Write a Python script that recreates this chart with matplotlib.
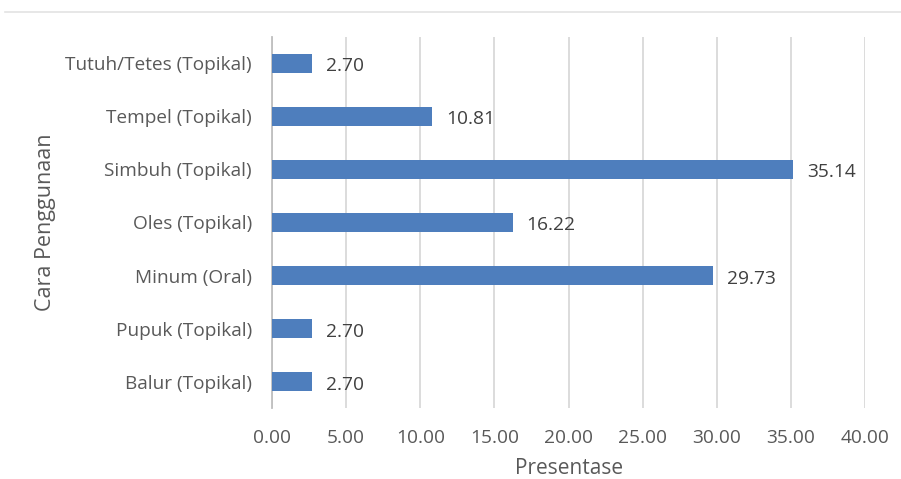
import matplotlib
matplotlib.use("Agg")
import matplotlib.pyplot as plt
from matplotlib.lines import Line2D

categories = ["Balur (Topikal)", "Pupuk (Topikal)", "Minum (Oral)", "Oles (Topikal)",
              "Simbuh (Topikal)", "Tempel (Topikal)", "Tutuh/Tetes (Topikal)"]
values = [2.70, 2.70, 29.73, 16.22, 35.14, 10.81, 2.70]
x_ticks = [0, 5, 10, 15, 20, 25, 30, 35, 40]

plt.rcParams['font.family'] = ['Open Sans', 'DejaVu Sans']
text_color = '#595959'
bar_color = '#4E7EBD'
grid_color = '#D9D9D9'

fig = plt.figure(figsize=(9.01, 4.79), dpi=100)
ax = fig.add_axes([0.3019, 0.1482, 0.6583, 0.7746])

ypos = list(range(len(categories)))
ax.barh(ypos, values, height=0.35, color=bar_color, zorder=3)

for y, v in zip(ypos, values):
    ax.annotate(f"{v:.2f}", xy=(v, y), xytext=(14, -3), textcoords='offset pixels',
                ha='left', va='center', fontsize=13.8, color='#404040')

ax.set_xlim(0, 40)
ax.set_ylim(-0.5, len(categories) - 0.5)
ax.set_xticks(x_ticks)
ax.set_xticklabels([f"{t:.2f}" for t in x_ticks], fontsize=13.8, color=text_color)
ax.set_yticks(ypos)
ax.set_yticklabels(categories, fontsize=13.7, color=text_color)
ax.tick_params(axis='both', length=0)
ax.tick_params(axis='x', pad=15)
ax.tick_params(axis='y', pad=14.4)

ax.xaxis.grid(True, color=grid_color, linewidth=1.3, zorder=0)
ax.set_axisbelow(True)
for side in ['top', 'right', 'bottom']:
    ax.spines[side].set_visible(False)
ax.spines['left'].set_color('#BFBFBF')
ax.spines['left'].set_linewidth(1.3)

ax.set_xlabel("Presentase", fontsize=15, color=text_color, labelpad=8)
ax.set_ylabel("Cara Penggunaan", fontsize=15.5, color=text_color, labelpad=7)

fig.add_artist(Line2D([5 / 901, 1.0], [1 - 12 / 479, 1 - 12 / 479],
                      transform=fig.transFigure, color='#E3E3E3', linewidth=1.2))

fig.savefig("out.png", dpi=100, facecolor='white')
